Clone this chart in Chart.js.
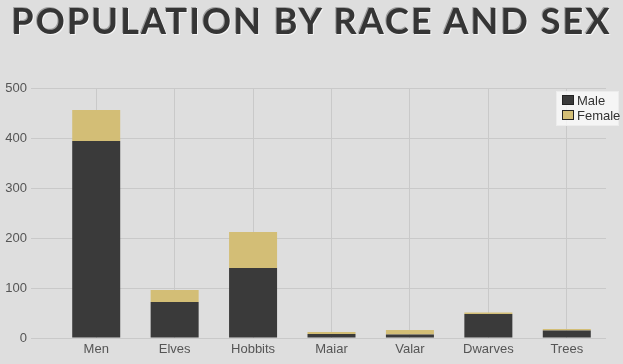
<!DOCTYPE html>
<html>
<head>
<meta charset="utf-8">
<script src="https://cdn.jsdelivr.net/npm/chart.js@4"></script>
<style>
  html, body { margin: 0; padding: 0; }
  body { width: 623px; height: 364px; background: #dedede; position: relative; overflow: hidden; }
  #title {
    position: absolute; left: 0; top: -2px; width: 623px; text-align: center;
    font-family: Lato, sans-serif; font-weight: 700; font-size: 36px; letter-spacing: 2.1px;
    color: #353535; text-shadow: 1px 1px 0 #f4f4f4, -1px -1px 0 #a0a0a0;
    margin: 0; white-space: nowrap;
  }
  #wrap { position: absolute; left: 0; top: 0; width: 623px; height: 364px; }
  #legend {
    position: absolute; left: 556px; top: 91px; width: 61px; padding: 1px 0 2px 0;
    background: rgba(250, 250, 250, 0.8); border: 1px solid #ececec;
    font-family: "Liberation Sans", Arial, sans-serif; font-size: 13px; color: #333;
  }
  #legend div { height: 15px; line-height: 15px; white-space: nowrap; }
  #legend span { display: inline-block; width: 10px; height: 8px; margin: 0 3px 0 5px; vertical-align: 0px; border: 1px solid #222; }
</style>
</head>
<body>
<div id="wrap"><canvas id="popChart" width="623" height="364"></canvas></div>
<h1 id="title">POPULATION BY RACE AND SEX</h1>
<div id="legend"></div>
<script>
  const races = ['Men', 'Elves', 'Hobbits', 'Maiar', 'Valar', 'Dwarves', 'Trees'];
  const maleCounts = [394, 72, 140, 8, 7, 48, 15];
  const femaleCounts = [62, 24, 72, 4, 9, 3, 3];
  const yTicks = [0, 100, 200, 300, 400, 500];

  const maleColor = '#3a3a3a';
  const femaleColor = '#d3be76';
  const gridColor = '#c9c9c9';

  const ctx = document.getElementById('popChart').getContext('2d');

  const popChart = new Chart(ctx, {
    type: 'bar',
    data: {
      labels: races,
      datasets: [
        {
          label: 'Male',
          data: maleCounts,
          backgroundColor: maleColor,
          borderColor: '#1e1e1e',
          borderWidth: { bottom: 1 },
          barPercentage: 0.612,
          categoryPercentage: 1
        },
        {
          label: 'Female',
          data: femaleCounts,
          backgroundColor: femaleColor,
          barPercentage: 0.612,
          categoryPercentage: 1
        }
      ]
    },
    options: {
      responsive: false,
      animation: false,
      layout: { padding: { top: 88, right: 17, left: 0, bottom: 0 } },
      plugins: {
        legend: { display: false },
        title: { display: false },
        tooltip: { enabled: false }
      },
      scales: {
        x: {
          stacked: true,
          afterFit: (scale) => { scale.height = 26; },
          grid: { color: gridColor, offset: false, drawTicks: false },
          border: { display: false },
          ticks: {
            padding: 4,
            color: '#555',
            font: { family: 'Liberation Sans', size: 13 }
          }
        },
        y: {
          stacked: true,
          min: 0,
          max: 500,
          afterFit: (scale) => { scale.width = 57; },
          afterBuildTicks: (scale) => { scale.ticks = yTicks.map(v => ({ value: v })); },
          grid: { color: gridColor, tickLength: 26 },
          border: { display: false },
          ticks: {
            padding: 4,
            color: '#555',
            font: { family: 'Liberation Sans', size: 13 }
          }
        }
      }
    }
  });

  // html legend built from the datasets
  const legendEl = document.getElementById('legend');
  popChart.data.datasets.forEach(ds => {
    const row = document.createElement('div');
    row.innerHTML = `<span style="background:${ds.backgroundColor}"></span>${ds.label}`;
    legendEl.appendChild(row);
  });
</script>
</body>
</html>
